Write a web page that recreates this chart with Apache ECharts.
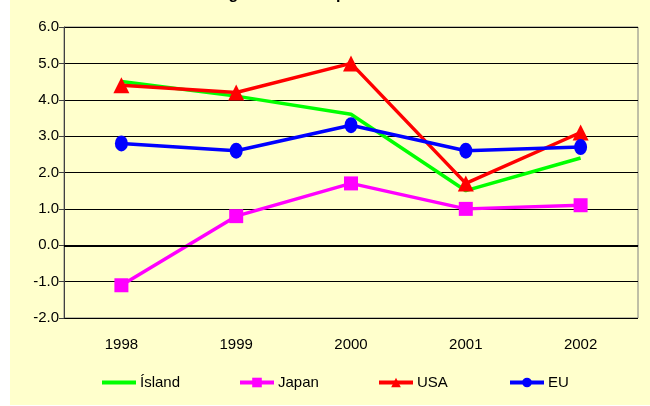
<!DOCTYPE html>
<html>
<head>
<meta charset="utf-8">
<script src="https://cdn.jsdelivr.net/npm/echarts@6/dist/echarts.min.js"></script>
<style>
  html, body { margin: 0; padding: 0; background: #ffffff; }
  #chart { position: absolute; left: 10px; top: 0; width: 640px; height: 405px; background: #ffffcc; }
</style>
</head>
<body>
<div id="chart"></div>
<script>
// 年份
const years = ['1998', '1999', '2000', '2001', '2002'];
// 各地區數值 (%)
const island = [4.5, 4.1, 3.6, 1.5, 2.4];
const japan = [-1.1, 0.8, 1.7, 1.0, 1.1];
const usa = [4.4, 4.2, 5.0, 1.7, 3.1];
const eu = [2.8, 2.6, 3.3, 2.6, 2.7];

const FONT = '"Liberation Sans", Arial, sans-serif';

const chart = echarts.init(document.getElementById('chart'));

// 圖例 - 每個項目各自定位
const legendItem = (item, left) => ({
    data: [item],
    left: left,
    top: 375,
    itemWidth: 34,
    itemHeight: 12,
    itemGap: 4,
    padding: 0,
    lineStyle: { width: 4 },
    textStyle: { fontFamily: FONT, fontSize: 15, color: '#000', padding: [0, 0, 0, -1] }
});

const option = {
    animation: false,
    title: {
        text: 'Hagvöxtur í Evrópu á tímabilinu',
        left: 193,
        top: -18,
        textStyle: { fontFamily: FONT, fontSize: 16, fontWeight: 'bold', color: '#000' }
    },
    legend: [
        legendItem({ name: 'Ísland', itemStyle: { opacity: 0 } }, 90),
        legendItem('Japan', 228),
        legendItem('USA', 367),
        legendItem('EU', 498)
    ],
    grid: { left: 54, right: 12, top: 27, bottom: 87, show: true, borderColor: '#808080', borderWidth: 1, backgroundColor: 'transparent' },
    xAxis: {
        type: 'category',
        data: years,
        boundaryGap: true,
        axisLine: { lineStyle: { color: '#808080', width: 1 } },
        axisTick: { show: false },
        axisLabel: { fontFamily: FONT, fontSize: 15, color: '#000', margin: 19 }
    },
    yAxis: {
        type: 'value',
        min: -2,
        max: 6,
        interval: 1,
        axisLine: { show: true, onZero: false, lineStyle: { color: '#404040', width: 1 } },
        axisTick: { show: true, length: 5, lineStyle: { color: '#404040' } },
        axisLabel: {
            fontFamily: FONT, fontSize: 15, color: '#000', margin: 5,
            formatter: v => v.toFixed(1)
        },
        splitLine: { show: true, lineStyle: { color: '#000', width: 1 } }
    },
    series: [
        {
            name: 'Ísland', type: 'line', data: island,
            symbol: 'none', showSymbol: false,
            lineStyle: { color: '#00ff00', width: 3.5 },
            itemStyle: { color: '#00ff00' },
            z: 2
        },
        {
            name: 'Japan', type: 'line', data: japan,
            symbol: 'rect', symbolSize: 14,
            lineStyle: { color: '#ff00ff', width: 3.5 },
            itemStyle: { color: '#ff00ff' },
            z: 3,
            // 0 軸粗線
            markLine: {
                silent: true, symbol: 'none', label: { show: false },
                lineStyle: { color: '#000', width: 2, type: 'solid' },
                data: [{ yAxis: 0 }]
            }
        },
        {
            name: 'USA', type: 'line', data: usa,
            symbol: 'triangle', symbolSize: 16,
            lineStyle: { color: '#ff0000', width: 3.5 },
            itemStyle: { color: '#ff0000' },
            z: 4
        },
        {
            name: 'EU', type: 'line', data: eu,
            symbol: 'circle', symbolSize: [13, 16],
            lineStyle: { color: '#0000ff', width: 3.5 },
            itemStyle: { color: '#0000ff' },
            z: 5
        }
    ]
};

chart.setOption(option);
</script>
</body>
</html>
